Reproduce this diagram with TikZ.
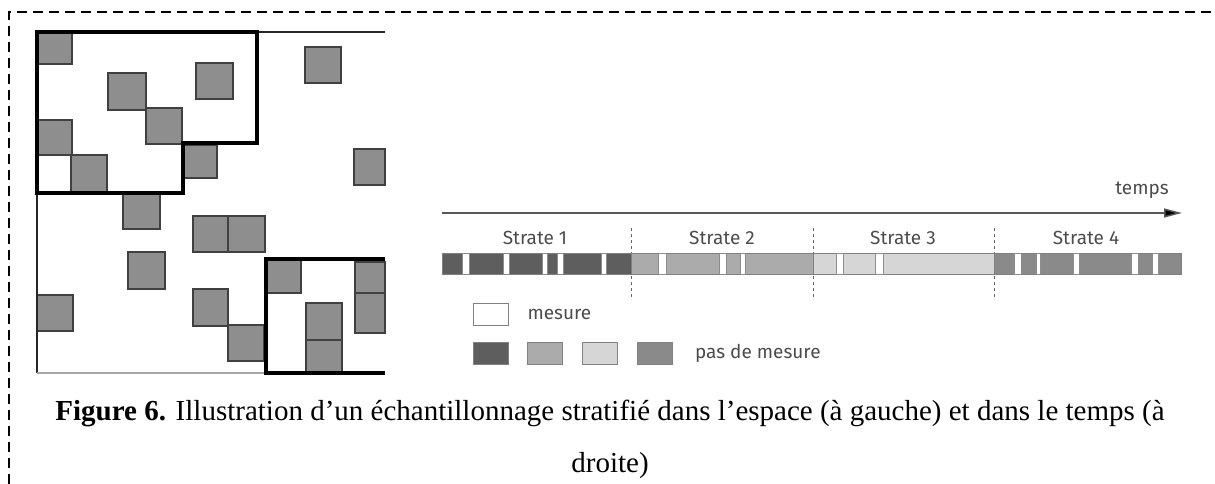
\documentclass[tikz,border=0pt]{standalone}
\usepackage{fontspec}
\setmainfont{Liberation Serif}
\newfontfamily\dinfont{Fira Sans}
\usetikzlibrary{arrows.meta, positioning}
\definecolor{cellgray}{HTML}{8E8E8E}
\definecolor{sone}{HTML}{5E5E5E}
\definecolor{stwo}{HTML}{ABABAB}
\definecolor{sthree}{HTML}{D6D6D6}
\definecolor{sfour}{HTML}{8A8A8A}
\tikzstyle{cell} = [draw=black!75, fill=cellgray, line width=1.2pt]
\tikzstyle{stratum} = [draw=black, line width=3.5pt, line join=miter]
\tikzstyle{frame} = [draw=black!85, line width=1.5pt]
\tikzstyle{seg} = [draw=black!50, line width=0.8pt]
\tikzstyle{gap} = [draw=black!45, fill=white, line width=0.8pt]
\tikzstyle{lbl} = [font=\dinfont\fontsize{19}{22}\selectfont, text=black!70, inner sep=0pt]
\tikzstyle{sep} = [draw=black!60, dash pattern=on 3pt off 3pt, line width=0.8pt]
\tikzstyle{key} = [seg, rectangle, minimum width=35pt, minimum height=22pt, inner sep=0pt]
\tikzstyle{timeline} = [draw=black!65, line width=1.5pt, -{Triangle[length=18pt,width=9pt,fill=black]}]

\begin{document}
\begin{tikzpicture}[x=1pt, y=-1pt]
    \useasboundingbox (0,0) rectangle (1215,484);
    \draw[line width=2pt, dash pattern=on 10pt off 6pt] (9,484) -- (9,12) -- (1215,12);

    % espace : grille et cellules
    \foreach \xa/\ya/\xb/\yb in {37/32/72/64, 108/73/146/110, 146/108/182/144, 37/120/72/155,
      71/155/107/193, 183/145/217/178, 196/63/233/99, 305/47/341/83, 354/149/385/185,
      123/193/160/229, 128/252/165/289, 37/295/73/331, 193/216/228/252, 228/216/265/252,
      193/289/228/326, 228/325/264/361, 266/259/301/293, 306/303/342/340, 306/340/342/373,
      355/262/385/293, 355/293/385/333}
      \draw[cell] (\xa,\ya) rectangle (\xb,\yb);
    \draw[frame] (385,32) -- (37,32) -- (37,373);
    \draw[draw=black!35, line width=1.5pt] (37,373) -- (385,373);
    \draw[stratum] (37,32) -- (257,32) -- (257,143) -- (183,143) -- (183,193) -- (37,193) -- cycle;
    \draw[stratum] (385,259) -- (266,259) -- (266,373) -- (385,373);

    % temps
    \coordinate (tstart) at (442,213);
    \coordinate (tend) at (1182,213);
    \draw[timeline] (tstart) -- (tend);
    \node[lbl] (temps) at (1142,190) {temps};

    \node[lbl] (s1) at (535,238) {Strate 1};
    \node[lbl] (s2) at (722,238) {Strate 2};
    \node[lbl] (s3) at (903,238) {Strate 3};
    \node[lbl] (s4) at (1086,238) {Strate 4};

    \foreach \xs in {631,813,994}
      \draw[sep] (\xs,228) -- (\xs,300);

    \draw[seg, fill=sone] (442,253) rectangle (631,274);
    \draw[seg, fill=stwo] (631,253) rectangle (813,274);
    \draw[seg, fill=sthree] (813,253) rectangle (994,274);
    \draw[seg, fill=sfour] (994,253) rectangle (1181,274);
    \foreach \ga/\gb in {462/469, 503/509, 542/547, 557/563, 601/606,
      658/666, 719/726, 740/745, 836/843, 875/883,
      1014/1021, 1036/1040, 1073/1079, 1131/1138, 1152/1158}
      \draw[gap] (\ga,253) rectangle (\gb,274);

    % legende
    \node[key, fill=white] (kmes) at (490.5,314) {};
    \node[lbl, right=19pt of kmes] (mes) {mesure};
    \node[key, fill=sone] (k1) at (490.5,353) {};
    \node[key, fill=stwo, right=19pt of k1] (k2) {};
    \node[key, fill=sthree, right=19pt of k2] (k3) {};
    \node[key, fill=sfour, right=19pt of k3] (k4) {};
    \node[lbl, right=22pt of k4] (pasmes) {pas de mesure};

    \node[anchor=base, align=center, inner sep=0pt, font=\fontsize{29}{52}\selectfont] (caption) at (610,472)
      {\textbf{Figure 6.} Illustration d’un échantillonnage stratifié dans l’espace (à gauche) et dans le temps (à\\droite)};
\end{tikzpicture}
\end{document}
